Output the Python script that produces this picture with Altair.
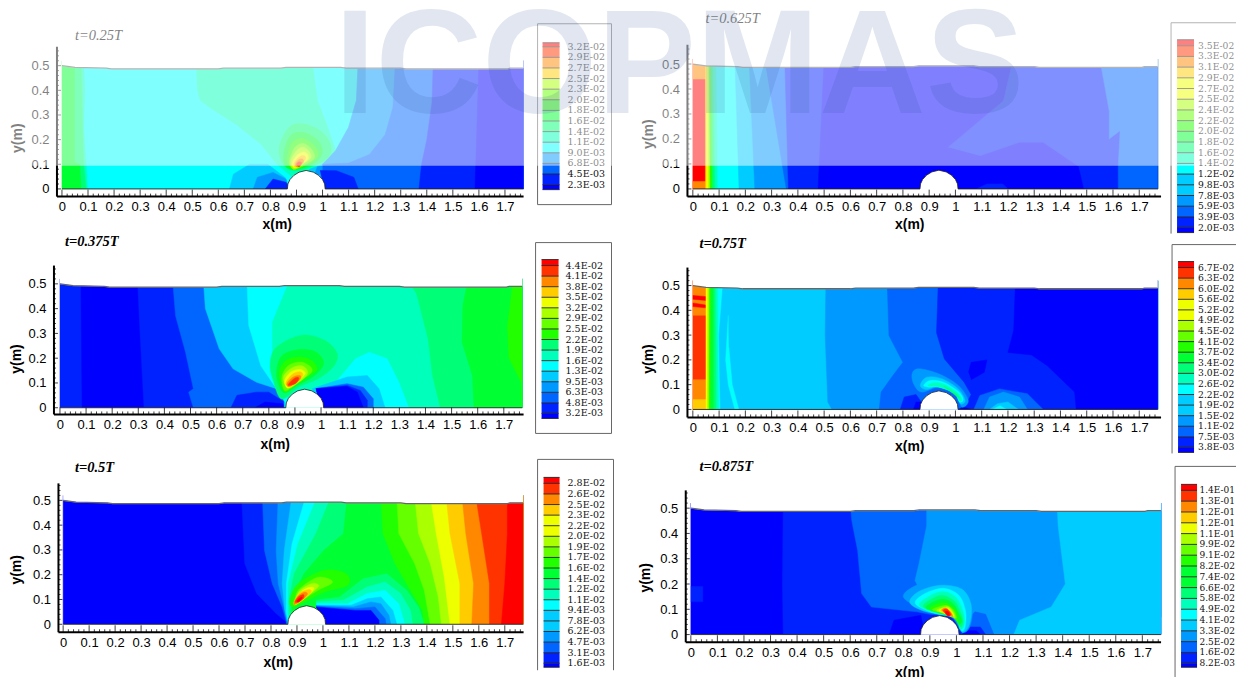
import altair as alt
import pandas as pd

PALETTE = ["#0000ff","#0022ff","#0066ff","#0099ff","#00ccff","#00ffff","#00ffbb","#00ff77","#00ff33",
           "#22ff00","#66ff00","#aaff00","#eeff00","#ffcc00","#ff8800","#ff3300","#ff0000"]

SURFACE = [(0,.5),(.05,.493),(.17,.49),(.19,.487),(.6,.487),(.62,.49),(.84,.49),(.86,.493),(1.07,.493),
           (1.09,.49),(1.3,.49),(1.32,.487),(1.71,.487),(1.72,.49),(1.77,.49)]
CYLINDER = [(.865,0),(.867,.02),(.875,.038),(.89,.055),(.91,.068),(.937,.075),(.965,.068),(.985,.055),
            (1.0,.038),(1.008,.02),(1.01,0)]

# r = region right of a contour line takes that level; p = closed polygon at that level
P1_BANDS = [("r",8,[(0,.52),(0,0)]),
 ("r",7,[(.05,.52),(.05,.11),(.07,.1),(.075,0)]),
 ("r",6,[(.075,.52),(.085,.1),(.095,0)]),
 ("r",5,[(.085,.52),(.09,.4),(.085,.25),(.095,.1),(.1,0)]),
 ("p",6,[(.515,.52),(.52,.4),(.53,.36),(.567,.33),(.67,.26),(.765,.18),(.825,.1),(.885,.047),(.99,.06),(1.04,.08),(1.08,.1),(1.05,.155),(1.02,.25),(.98,.36),(.96,.52)]),
 ("r",4,[(1.137,.52),(1.13,.36),(1.10,.25),(1.05,.155),(1.0,.1),(.95,.08),(.95,0)]),
 ("r",3,[(1.28,.52),(1.26,.33),(1.22,.2),(1.13,.12),(1.03,.1),(.98,.09),(.95,0)]),
 ("r",3,[(1.137,.52),(1.13,.36),(1.10,.25),(1.05,.155),(1.0,.1),(1.0,.1)]),
 ("p",2,[(1.0,.1),(1.1,.105),(1.18,.14),(1.24,.22),(1.27,.33),(1.28,.52),(1.77,.52),(1.77,0),(1.0,0)]),
 ("r",1,[(1.425,.52),(1.42,.35),(1.40,.2),(1.38,.1),(1.37,0)]),
 ("r",0,[(1.6,.52),(1.585,0)]),
 ("p",4,[(.643,0),(.658,.06),(.72,.1),(.79,.1),(.855,.047),(.87,0)]),
 ("p",3,[(.734,0),(.75,.047),(.81,.067),(.86,.04),(.87,0)]),
 ("p",1,[(.78,0),(.81,.04),(.86,.027),(.878,0)]),
 ("p",1,[(1.007,0),(1.137,0),(1.12,.047),(1.053,.074),(.99,.075)]),
]
P1_BLOBS = [
 (7,[(.833,.169),(.871,.25),(.924,.264),(.992,.236),(1.03,.182),(1.023,.128),(.962,.092),(.894,.074),(.848,.101)]),
 (8,[(.85,.14),(.875,.215),(.925,.23),(.98,.2),(1.0,.15),(.97,.105),(.90,.08),(.86,.09)]),
 (9,[(.865,.13),(.885,.19),(.925,.205),(.965,.18),(.985,.14),(.955,.105),(.895,.08),(.87,.095)]),
 (10,[(.875,.125),(.895,.17),(.925,.185),(.955,.165),(.97,.13),(.945,.105),(.895,.08),(.875,.095)]),
 (11,[(.88,.12),(.9,.155),(.925,.17),(.95,.15),(.955,.125),(.93,.105),(.895,.08),(.88,.09)]),
 (12,[(.885,.11),(.905,.14),(.93,.15),(.945,.135),(.94,.115),(.91,.095),(.89,.085)]),
 (13,[(.89,.105),(.91,.13),(.93,.135),(.935,.12),(.915,.1),(.895,.09)]),
 (14,[(.895,.1),(.91,.12),(.925,.12),(.925,.105),(.905,.09)]),
 (15,[(.9,.1),(.91,.11),(.92,.105),(.91,.09)]),
]

P2_BANDS = [("r",16,[(0,.52),(0,0)]),
 ("p",14,[(0,.52),(.05,.52),(.05,.44),(0,.44)]),
 ("p",14,[(0,.03),(.05,.03),(.05,0),(0,0)]),
 ("r",13,[(.048,.52),(.048,0)]),("r",12,[(.052,.52),(.052,0)]),("r",11,[(.058,.52),(.06,0)]),
 ("r",9,[(.063,.52),(.066,0)]),("r",7,[(.07,.52),(.075,0)]),("r",6,[(.078,.52),(.085,0)]),
 ("r",5,[(.09,.52),(.095,0)]),("r",4,[(.16,.52),(.176,0)]),("r",3,[(.214,.52),(.236,0)]),
 ("r",2,[(.274,.52),(.356,0)]),("r",1,[(.35,.52),(.364,0)]),("r",0,[(.5,.52),(.477,0)]),
 ("p",1,[(.973,.167),(1.183,.353),(1.22,.52),(1.55,.52),(1.59,.287),(1.59,.2),(1.627,.233),(1.62,0),(1.49,0),(1.47,.09),(1.334,.187),(1.244,.187),(1.093,.133)]),
 ("r",2,[(1.55,.52),(1.586,.31),(1.586,.2),(1.627,.233),(1.62,.087),(1.62,0)]),
 ("p",1,[(1.08,0),(1.12,.02),(1.18,.02),(1.2,0)]),
]

P3_BANDS = [("r",1,[(0,.52),(0,0)]),
 ("r",0,[(.08,.52),(.085,0)]),
 ("r",1,[(.297,.52),(.307,.3),(.322,0)]),
 ("r",2,[(.431,.52),(.443,.37),(.481,.224),(.511,.077),(.493,.063),(.511,0)]),
 ("p",1,[(.655,0),(.678,.05),(.753,.063),(.8,.063),(.86,.023),(.87,0)]),
 ("p",0,[(.747,0),(.785,.023),(.853,.016),(.87,0)]),
 ("r",4,[(.549,.52),(.557,.4),(.61,.238),(.663,.157),(.753,.103),(.829,.077),(.859,.036),(.859,0)]),
 ("r",5,[(.716,.52),(.723,.332),(.769,.17),(.829,.077),(.862,.023),(.862,0)]),
 ("r",6,[(.882,.52),(.814,.345),(.814,.21),(.859,.077),(.875,.036),(.875,0)]),
 ("p",5,[(.965,.077),(1.056,.103),(1.132,.198),(1.185,.224),(1.253,.198),(1.298,.103),(1.336,0),(1.0,0)]),
 ("p",4,[(.965,.077),(1.10,.124),(1.177,.13),(1.222,.077),(1.245,0),(1.0,0)]),
 ("p",2,[(.98,.077),(1.10,.097),(1.162,.083),(1.2,.036),(1.2,0),(1.0,0)]),
 ("p",1,[(.98,.077),(1.10,.09),(1.15,.07),(1.177,.03),(1.177,0),(1.0,0)]),
 ("p",0,[(.98,.077),(1.10,.086),(1.139,.063),(1.162,0),(1.0,0)]),
 ("r",7,[(1.328,.52),(1.366,.46),(1.41,.278),(1.427,.13),(1.457,0)]),
 ("r",8,[(1.563,.52),(1.543,.41),(1.54,.265),(1.58,.13),(1.586,0)]),
 ("r",9,[(1.737,.52),(1.714,.33),(1.72,.2),(1.767,.103),(1.77,0)]),
]
P3_BLOBS = [
 (7,[(.805,.178),(.83,.245),(.925,.293),(1.014,.272),(1.062,.218),(1.046,.164),(.989,.117),(.913,.083),(.849,.035),(.817,.11)]),
 (8,[(.83,.15),(.85,.21),(.915,.235),(.98,.225),(1.01,.18),(.975,.13),(.91,.09),(.86,.06),(.835,.1)]),
 (9,[(.84,.14),(.865,.19),(.92,.205),(.965,.19),(.985,.155),(.95,.125),(.9,.09),(.86,.065)]),
 (10,[(.85,.125),(.875,.17),(.92,.185),(.955,.17),(.965,.145),(.93,.115),(.89,.085),(.86,.07)]),
 (11,[(.855,.12),(.88,.155),(.92,.17),(.945,.155),(.945,.13),(.91,.1),(.875,.08)]),
 (12,[(.86,.11),(.885,.145),(.92,.155),(.94,.14),(.925,.12),(.89,.09),(.87,.08)]),
 (13,[(.865,.1),(.89,.135),(.92,.145),(.93,.13),(.905,.105),(.88,.085)]),
 (14,[(.87,.1),(.895,.125),(.92,.13),(.92,.115),(.895,.095),(.875,.085)]),
 (15,[(.875,.095),(.9,.12),(.915,.12),(.905,.1),(.88,.09)]),
]

P4_BANDS = [("r",15,[(0,.52),(0,0)]),
 ("p",14,[(0,.52),(.05,.52),(.05,.38),(0,.38)]),
 ("p",16,[(0,.46),(.055,.455),(.05,.44),(0,.445)]),
 ("p",16,[(0,.43),(.055,.42),(.05,.41),(0,.415)]),
 ("p",14,[(0,.12),(.05,.12),(.05,0),(0,0)]),
 ("p",13,[(0,.04),(.05,.04),(.05,0),(0,0)]),
 ("r",12,[(.05,.52),(.05,0)]),("r",11,[(.058,.52),(.056,0)]),("r",9,[(.064,.52),(.062,0)]),
 ("r",8,[(.07,.52),(.068,0)]),("r",7,[(.08,.52),(.08,0)]),("r",6,[(.087,.52),(.09,0)]),
 ("r",5,[(.095,.52),(.1,0)]),("r",4,[(.116,.52),(.1,.3),(.105,0)]),
 ("p",5,[(.135,.38),(.125,.2),(.135,.1),(.16,0),(.175,0),(.15,.1),(.137,.25)]),
 ("r",3,[(.507,.52),(.504,.3),(.514,.03),(.53,0)]),
 ("r",2,[(.74,.52),(.747,.298),(.8,.19),(.762,.137),(.717,.07),(.71,0)]),
 ("r",1,[(.935,.52),(.928,.31),(.958,.204),(1.033,.11),(1.06,.06),(1.03,0)]),
 ("r",0,[(1.229,.52),(1.222,.32),(1.2,.23),(1.29,.22),(1.349,.177),(1.454,.07),(1.46,0)]),
 ("p",0,[(1.05,.15),(1.06,.19),(1.12,.2),(1.11,.15),(1.06,.12)]),
 ("p",2,[(1.07,0),(1.093,.056),(1.168,.083),(1.274,.063),(1.334,0)]),
 ("p",3,[(1.108,0),(1.13,.05),(1.183,.07),(1.244,.05),(1.274,0)]),
 ("p",4,[(1.13,0),(1.16,.023),(1.2,.03),(1.24,.0)]),
 ("p",5,[(1.14,0),(1.17,.015),(1.195,0)]),
 ("p",1,[(.79,0),(.805,.05),(.85,.06),(.87,.03),(.87,0)]),
 ("p",0,[(.84,0),(.85,.03),(.87,.03),(.87,0)]),
 ("p",0,[(1.01,0),(1.03,.01),(1.06,.0)]),
]
P4_BLOBS = [
 (3,[(.835,.144),(.86,.164),(.936,.144),(1.011,.097),(1.049,.036),(1.024,.01),(.999,.07),(.936,.09),(.871,.07),(.841,.103)]),
 (4,[(.866,.097),(.891,.13),(.948,.124),(1.011,.083),(1.037,.036),(1.018,.023),(.999,.07),(.936,.093),(.891,.08)]),
 (5,[(.879,.097),(.904,.117),(.955,.11),(1.011,.073),(1.03,.04),(1.015,.03),(.995,.068),(.936,.09),(.9,.09)]),
 (6,[(.895,.095),(.92,.108),(.96,.1),(1.005,.07),(1.025,.04),(1.015,.035),(.995,.065),(.94,.09)]),
 (7,[(.955,.095),(1.0,.065),(1.015,.045),(.99,.065)]),
]

P5_BANDS = [("r",0,[(0,.52),(0,0)]),
 ("r",1,[(.687,.52),(.699,.245),(.745,.124),(.82,.043),(.859,.01),(.859,0)]),
 ("r",2,[(.767,.52),(.775,.298),(.805,.164),(.843,.07),(.859,.01),(.859,0)]),
 ("r",3,[(.828,.52),(.82,.298),(.828,.164),(.85,.07),(.862,.01),(.862,0)]),
 ("r",4,[(.881,.52),(.851,.298),(.843,.164),(.853,.06),(.865,0)]),
 ("r",5,[(.935,.52),(.881,.325),(.859,.164),(.859,.05),(.868,0)]),
 ("r",6,[(.98,.52),(.904,.325),(.866,.164),(.865,.05),(.87,0)]),
 ("r",7,[(1.033,.52),(.973,.366),(.889,.204),(.87,.1),(.875,0)]),
 ("r",8,[(1.094,.52),(1.079,.366),(1.003,.298),(.927,.204),(.88,.1),(.88,0)]),
 ("p",7,[(.973,.097),(1.064,.11),(1.155,.184),(1.246,.204),(1.322,.137),(1.368,.07),(1.39,0),(1.01,0)]),
 ("p",6,[(.973,.09),(1.079,.097),(1.17,.15),(1.239,.171),(1.299,.124),(1.337,.056),(1.345,0),(1.01,0)]),
 ("p",5,[(.973,.083),(1.094,.083),(1.17,.124),(1.239,.137),(1.292,.083),(1.315,0),(1.01,0)]),
 ("p",4,[(.973,.077),(1.109,.077),(1.17,.103),(1.223,.11),(1.269,.056),(1.284,0),(1.01,0)]),
 ("p",3,[(.973,.075),(1.117,.07),(1.185,.09),(1.223,.083),(1.254,.036),(1.261,0),(1.01,0)]),
 ("p",2,[(.973,.073),(1.125,.063),(1.2,.07),(1.239,.023),(1.243,0),(1.01,0)]),
 ("p",0,[(.973,.07),(1.125,.056),(1.185,.056),(1.216,.016),(1.216,0),(1.01,0)]),
 ("r",9,[(1.223,.52),(1.231,.366),(1.277,.245),(1.337,.137),(1.383,.056),(1.39,0)]),
 ("r",10,[(1.284,.52),(1.292,.366),(1.353,.245),(1.39,.137),(1.413,0)]),
 ("r",11,[(1.353,.52),(1.368,.366),(1.413,.245),(1.444,.11),(1.456,0)]),
 ("r",12,[(1.413,.52),(1.436,.366),(1.467,.19),(1.489,0)]),
 ("r",13,[(1.474,.52),(1.489,.366),(1.527,.164),(1.527,0)]),
 ("r",14,[(1.535,.52),(1.55,.366),(1.58,.164),(1.573,0)]),
 ("r",15,[(1.588,.52),(1.611,.366),(1.641,.164),(1.641,0)]),
 ("r",16,[(1.71,.52),(1.71,.366),(1.70,.164),(1.687,0)]),
]
P5_BLOBS = [
 (9,[(.873,.097),(.905,.164),(1.006,.218),(1.089,.204),(1.095,.157),(1.006,.13),(.93,.09),(.885,.07)]),
 (10,[(.893,.105),(.911,.144),(.981,.19),(1.038,.171),(.981,.137),(.93,.103),(.889,.077)]),
 (11,[(.893,.1),(.915,.14),(.96,.165),(.985,.155),(.96,.13),(.92,.1),(.89,.08)]),
 (12,[(.895,.095),(.92,.135),(.955,.15),(.965,.14),(.93,.105),(.895,.08)]),
 (13,[(.89,.09),(.91,.125),(.945,.14),(.955,.13),(.925,.1),(.895,.08)]),
 (14,[(.89,.09),(.905,.115),(.93,.13),(.94,.12),(.915,.095),(.89,.08)]),
 (15,[(.893,.09),(.905,.11),(.925,.12),(.925,.105),(.905,.09)]),
 (16,[(.9,.095),(.91,.105),(.92,.11),(.915,.098),(.905,.09)]),
]

P6_BANDS = [("r",0,[(0,.52),(0,0)]),
 ("p",1,[(0,.19),(.045,.19),(.045,.13),(0,.13)]),
 ("r",1,[(.348,.52),(.345,.2),(.348,0)]),
 ("p",2,[(.6,.52),(.606,.45),(.628,.333),(.643,.162),(.68,.109),(.851,.09),(.9,.08),(1.03,.07),(1.77,.07),(1.77,.52)]),
 ("p",0,[(.747,0),(.765,.057),(.866,.076),(.88,0)]),
 ("p",3,[(.888,.52),(.888,.43),(.859,.28),(.844,.214),(.9,.1),(1.045,.07),(1.097,.083),(1.141,0),(1.77,0),(1.77,.52)]),
 ("p",2,[(1.02,0),(1.03,.05),(1.07,.09),(1.11,.08),(1.141,0)]),
 ("p",1,[(1.02,0),(1.05,.03),(1.09,.03),(1.11,0)]),
 ("p",0,[(1.02,0),(1.04,.015),(1.075,.015),(1.09,0)]),
 ("r",4,[(1.379,.52),(1.383,.43),(1.41,.2),(1.357,.109),(1.238,.057),(1.216,0)]),
 ("p",3,[(1.357,.39),(1.37,.31),(1.385,.27),(1.385,.33)]),
]
P6_BLOBS = [
 (3,[(.8,.149),(.859,.2),(.94,.214),(1.03,.188),(1.06,.11),(1.05,.03),(1.02,.01),(.98,.07),(.889,.095)]),
 (4,[(.825,.125),(.858,.17),(.94,.195),(1.02,.18),(1.055,.12),(1.05,.043),(1.021,.009),(.996,.069),(.889,.089)]),
 (5,[(.845,.123),(.883,.163),(.951,.183),(1.009,.156),(1.034,.096),(1.034,.036),(1.02,.015),(.996,.065),(.913,.085)]),
 (6,[(.86,.115),(.895,.15),(.95,.17),(1.0,.145),(1.025,.09),(1.03,.045),(1.015,.02),(.995,.065),(.925,.085)]),
 (7,[(.875,.11),(.905,.14),(.95,.155),(.995,.13),(1.018,.08),(1.025,.05),(1.015,.03),(.995,.065),(.935,.085)]),
 (8,[(.885,.105),(.915,.13),(.955,.14),(.99,.12),(1.01,.08),(1.02,.055),(1.008,.04),(.99,.07),(.94,.085)]),
 (9,[(.9,.1),(.925,.12),(.96,.125),(.99,.105),(1.005,.075),(1.005,.05),(.985,.07),(.945,.085)]),
 (10,[(.91,.097),(.935,.11),(.965,.115),(.99,.095),(1.0,.065),(.985,.07),(.95,.085)]),
 (11,[(.925,.095),(.945,.105),(.97,.11),(.99,.085),(.995,.065),(.98,.075),(.95,.085)]),
 (12,[(.935,.095),(.955,.105),(.975,.1),(.99,.075),(.975,.075),(.955,.085)]),
 (13,[(.94,.095),(.96,.105),(.98,.09),(.985,.07),(.965,.08)]),
 (14,[(.945,.097),(.96,.105),(.98,.085),(.985,.07),(.965,.08)]),
 (15,[(.95,.095),(.965,.1),(.98,.08),(.97,.075)]),
 (16,[(.958,.09),(.97,.09),(.975,.075),(.965,.075)]),
]

L1 = ["3.2E-02","2.9E-02","2.7E-02","2.5E-02","2.3E-02","2.0E-02","1.8E-02","1.6E-02","1.4E-02","1.1E-02","9.0E-03","6.8E-03","4.5E-03","2.3E-03"]
L2 = ["3.5E-02","3.3E-02","3.1E-02","2.9E-02","2.7E-02","2.5E-02","2.4E-02","2.2E-02","2.0E-02","1.8E-02","1.6E-02","1.4E-02","1.2E-02","9.8E-03","7.8E-03","5.9E-03","3.9E-03","2.0E-03"]
L3 = ["4.4E-02","4.1E-02","3.8E-02","3.5E-02","3.2E-02","2.9E-02","2.5E-02","2.2E-02","1.9E-02","1.6E-02","1.3E-02","9.5E-03","6.3E-03","4.8E-03","3.2E-03"]
L4 = ["6.7E-02","6.3E-02","6.0E-02","5.6E-02","5.2E-02","4.9E-02","4.5E-02","4.1E-02","3.7E-02","3.4E-02","3.0E-02","2.6E-02","2.2E-02","1.9E-02","1.5E-02","1.1E-02","7.5E-03","3.8E-03"]
L5 = ["2.8E-02","2.6E-02","2.5E-02","2.3E-02","2.2E-02","2.0E-02","1.9E-02","1.7E-02","1.6E-02","1.4E-02","1.2E-02","1.1E-02","9.4E-03","7.8E-03","6.2E-03","4.7E-03","3.1E-03","1.6E-03"]
L6 = ["1.4E-01","1.3E-01","1.2E-01","1.2E-01","1.1E-01","9.9E-02","9.1E-02","8.2E-02","7.4E-02","6.6E-02","5.8E-02","4.9E-02","4.1E-02","3.3E-02","2.5E-02","1.6E-02","8.2E-03"]

XTICKS = [i / 10 for i in range(18)]
YTICKS = [i / 10 for i in range(6)]
SANS = "Liberation Sans"
SERIF = "Liberation Serif"
PAGE_RIGHT = 1237


def polys(items):
    rows = []
    for n, item in enumerate(items):
        if item[0] in ("r", "p"):
            kind, lev, pts = item
            if kind == "r":
                pts = pts + [(1.77, pts[-1][1]), (1.77, pts[0][1])]
        else:
            lev, pts = item
        for i, (x, y) in enumerate(pts):
            rows.append({"p": n, "i": i, "x": x, "y": y, "c": PALETTE[lev]})
    return pd.DataFrame(rows)


def panel(g, bands, blobs, title, weight="bold"):
    L, R, T, B, x0, ppm, y0, ppy, axx = g["L"], g["R"], g["T"], g["B"], g["x0"], g["ppm"], g["y0"], g["ppy"], g["ax"]
    CT, CB = g["CT"], g["CB"]
    tx = lambda px: (px - x0) / ppm
    ty = lambda py: (y0 - py) / ppy
    xs = alt.Scale(domain=[tx(L), tx(R)], nice=False, zero=False)
    ys = alt.Scale(domain=[ty(CB), ty(CT)], nice=False, zero=False)
    xa = alt.Axis(values=XTICKS, format=".1~f", title="x(m)", grid=False, tickSize=0, domain=False, offset=B - CB,
                  labelFont=SANS, labelFontSize=13, labelColor="#000000", labelPadding=4, labelFlush=False, labelOverlap=False,
                  titleFont=SANS, titleFontSize=14, titleFontWeight="bold", titleColor="#000000",
                  titleX=g["xtx"] - L, titleY=g["xty"] - B, titleBaseline="middle")
    ya = alt.Axis(values=YTICKS, format=".1~f", title="y(m)", grid=False, tickSize=0, domain=False, offset=L - axx,
                  labelFont=SANS, labelFontSize=13, labelColor="#000000", labelPadding=8, labelFlush=False, labelOverlap=False,
                  titleFont=SANS, titleFontSize=14, titleFontWeight="bold", titleColor="#000000",
                  titleX=g["ytx"] - axx, titleY=g["yty"] - CT, titleBaseline="middle")
    X = alt.X("x:Q", scale=xs, axis=xa)
    Y = alt.Y("y:Q", scale=ys, axis=ya)
    poly_enc = dict(x=X, y=Y, detail="p:N", order="i:Q",
                    fill=alt.Fill("c:N", scale=None), stroke=alt.Stroke("c:N", scale=None))
    layers = [alt.Chart(polys(bands)).mark_line(strokeWidth=0.5).encode(**poly_enc)]
    if blobs:
        layers.append(alt.Chart(polys(blobs)).mark_line(strokeWidth=0.4, interpolate="cardinal-closed").encode(**poly_enc))
    mask_pts = SURFACE + [(1.77, .6), (0, .6)]
    mask = pd.DataFrame([{"x": a, "y": b, "i": i} for i, (a, b) in enumerate(mask_pts)])
    layers.append(alt.Chart(mask).mark_line(fill="white", stroke="white", strokeWidth=0.5).encode(x=X, y=Y, order="i:Q"))
    under = pd.DataFrame([{"x": 0, "y": 0, "y2": ty(B - 1)}, {"x": 1.77, "y": 0, "y2": ty(B - 1)}])
    layers.append(alt.Chart(under).mark_area(color="white").encode(x=X, y=Y, y2="y2:Q"))
    surf = pd.DataFrame([{"x": a, "y": b, "i": i} for i, (a, b) in enumerate(SURFACE)])
    layers.append(alt.Chart(surf).mark_line(color="#666666", strokeWidth=1.3).encode(x=X, y=Y, order="i:Q"))
    cyl = pd.DataFrame([{"x": a, "y": b, "i": i} for i, (a, b) in enumerate(CYLINDER)])
    layers.append(alt.Chart(cyl).mark_line(fill="white", stroke="#222222", strokeWidth=0.8).encode(x=X, y=Y, order="i:Q"))
    base_line = pd.DataFrame([{"x": 0, "y": 0, "x2": .865}, {"x": 1.01, "y": 0, "x2": 1.77}])
    layers.append(alt.Chart(base_line).mark_rule(color="#222222", strokeWidth=0.9).encode(x=X, x2="x2:Q", y=Y))
    # the axis lines and the ruler ticks that rise from them
    xt = [k / 50 for k in range(89)]
    rows = [{"x": v, "y": ty(B), "y2": ty(B - (7 if k % 5 == 0 else 3))} for k, v in enumerate(xt)]
    layers.append(alt.Chart(pd.DataFrame(rows)).mark_rule(color="#111111", strokeWidth=0.8).encode(x=X, y=Y, y2="y2:Q"))
    yt = [k / 50 for k in range(29)]
    rows = [{"y": v, "x": tx(axx), "x2": tx(axx + (4 if k % 5 == 0 else 2))} for k, v in enumerate(yt)]
    layers.append(alt.Chart(pd.DataFrame(rows)).mark_rule(color="#111111", strokeWidth=0.8).encode(x=X, x2="x2:Q", y=Y))
    frame = pd.DataFrame([{"x": tx(axx), "x2": tx(R), "y": ty(B), "y2": ty(B)},
                          {"x": tx(axx), "x2": tx(axx), "y": ty(B), "y2": ty(T)}])
    layers.append(alt.Chart(frame).mark_rule(color="#000000", strokeWidth=2).encode(x=X, x2="x2:Q", y=Y, y2="y2:Q"))
    ttl = pd.DataFrame([{"x": tx(g["tx"]), "y": ty(g["ty"]), "t": title}])
    layers.append(alt.Chart(ttl).mark_text(font=SERIF, fontSize=14.5, fontStyle="italic", fontWeight=weight,
                                            align="left", baseline="middle", color="#000000").encode(x=X, y=Y, text="t:N"))
    return alt.layer(*layers).properties(width=R - L, height=CB - CT)


def legend(g, labels, overlay=False):
    xl, xr = g["cellL"], g["cellR"]
    T, B = g["CT"], g["CB"]
    xs = alt.Scale(domain=[xl, xr], nice=False, zero=False)
    ys = alt.Scale(domain=[B, T], nice=False, zero=False)
    X = alt.X("x:Q", scale=xs, axis=None)
    Y = alt.Y("y:Q", scale=ys, axis=None)
    n = len(labels)
    dy = (g["lastY"] - g["firstY"]) / (n - 1)
    rows = []
    edges = [g["stackTop"]] + [g["firstY"] + k * dy for k in range(n)] + [g["stackBot"]]
    for k in range(n + 1):
        lev = round((n - k) * 16 / n)
        rows.append({"x": g["sx0"], "x2": g["sx1"], "y": edges[k], "y2": edges[k + 1], "c": PALETTE[lev]})
    bands = alt.Chart(pd.DataFrame(rows)).mark_rect().encode(x=X, x2="x2:Q", y=Y, y2="y2:Q", fill=alt.Fill("c:N", scale=None))
    lines = pd.DataFrame([{"x": g["sx0"], "x2": g["sx1"], "y": e} for e in edges])
    line = alt.Chart(lines).mark_rule(color="#222222", strokeWidth=0.9).encode(x=X, x2="x2:Q", y=Y)
    txt = pd.DataFrame([{"x": g["lx"], "y": g["firstY"] + k * dy, "t": s} for k, s in enumerate(labels)])
    text = alt.Chart(txt).mark_text(font="DejaVu Serif", fontSize=g.get("lfs", 9.5), align="left", baseline="middle", color="#111111").encode(x=X, y=Y, text="t:N")
    frame_rows = [{"x": g["bx0"], "x2": min(g["bx1"], PAGE_RIGHT), "y": g["by0"], "y2": g["by0"]},
                  {"x": g["bx0"], "x2": g["bx0"], "y": g["by0"], "y2": g["by1"]}]
    if g["bx1"] <= PAGE_RIGHT:
        frame_rows.append({"x": g["bx1"], "x2": g["bx1"], "y": g["by0"], "y2": g["by1"]})
    if g["closed"]:
        frame_rows.append({"x": g["bx0"], "x2": g["bx1"], "y": g["by1"], "y2": g["by1"]})
    frame = alt.Chart(pd.DataFrame(frame_rows)).mark_rule(color="#666666", strokeWidth=1).encode(x=X, x2="x2:Q", y=Y, y2="y2:Q")
    layers = [bands, line, text, frame]
    if overlay:
        wash = pd.DataFrame([{"x": 8, "x2": PAGE_RIGHT, "y": 8, "y2": 165}])
        layers.append(alt.Chart(wash).mark_rect(fill="white", opacity=0.5).encode(x=X, x2="x2:Q", y=Y, y2="y2:Q"))
        mark = pd.DataFrame([{"x": 680, "y": 112, "t": "ICOPMAS"}])
        layers.append(alt.Chart(mark).mark_text(font=SANS, fontWeight="bold", fontSize=148, align="center", baseline="alphabetic",
                                               fill="#204a90", opacity=0.13).encode(x=X, y=Y, text="t:N"))
    return alt.layer(*layers).properties(width=xr - xl, height=B - T)


ROW1 = dict(CT=44, CB=196)
ROW2 = dict(CT=262, CB=417)
ROW3 = dict(CT=483, CB=642)
G1 = dict(ROW1, L=54, R=524, T=46, B=196, x0=62, ppm=260.8, y0=188.3, ppy=246.7, ax=57, tx=75, ty=35, xtx=277, xty=224, ytx=18, yty=137)
G3 = dict(ROW2, L=54, R=524, T=265, B=414, x0=60, ppm=261.3, y0=407.3, ppy=248, ax=54, tx=65, ty=241, xtx=275, xty=444, ytx=16.5, yty=358)
G5 = dict(ROW3, L=54, R=524, T=483, B=632, x0=63.2, ppm=260, y0=624, ppy=248, ax=58.5, tx=75, ty=468, xtx=278, xty=662, ytx=17, yty=569)
G2 = dict(ROW1, L=686, R=1162, T=44, B=196, x0=693.4, ppm=262.8, y0=188.3, ppy=250, ax=688, tx=706, ty=18, xtx=910, xty=224, ytx=649, yty=133)
G4 = dict(ROW2, L=686, R=1162, T=267, B=417, x0=693.4, ppm=262.8, y0=409, ppy=248, ax=688, tx=700, ty=243, xtx=910, xty=446, ytx=649, yty=358)
G6 = dict(ROW3, L=686, R=1162, T=490, B=642, x0=691.4, ppm=265.8, y0=634.3, ppy=253, ax=686.3, tx=700, ty=467, xtx=910, xty=672, ytx=646, yty=577)

LG1 = dict(G1, cellL=524, cellR=686, stackTop=42, stackBot=189, firstY=46, lastY=184, sx0=543, sx1=560, lx=568, bx0=538, bx1=612, by0=23, by1=204, closed=True)
LG3 = dict(G3, cellL=524, cellR=686, stackTop=259, stackBot=418, firstY=265, lastY=413, sx0=542, sx1=559, lx=566, bx0=536, bx1=612, by0=242, by1=433, closed=True)
LG5 = dict(G5, cellL=524, cellR=686, stackTop=477, stackBot=667, firstY=483, lastY=663, sx0=544, sx1=560, lx=568, bx0=538, bx1=614, by0=459, by1=670, closed=False)
LG2 = dict(G2, cellL=1162, cellR=PAGE_RIGHT, stackTop=39, stackBot=232, firstY=45, lastY=227, sx0=1178, sx1=1195, lx=1199, lfs=9.2, bx0=1172, bx1=1300, by0=22, by1=233, closed=False)
LG4 = dict(G4, cellL=1162, cellR=PAGE_RIGHT, stackTop=261, stackBot=452, firstY=267, lastY=447, sx0=1179, sx1=1195, lx=1199, lfs=9.2, bx0=1173, bx1=1300, by0=244, by1=453, closed=False)
LG6 = dict(G6, cellL=1162, cellR=PAGE_RIGHT, stackTop=484, stackBot=667, firstY=490, lastY=663, sx0=1182, sx1=1198, lx=1200.5, lfs=9.0, bx0=1176, bx1=1300, by0=466, by1=677, closed=False)

chart = alt.concat(
    panel(G1, P1_BANDS, P1_BLOBS, "t=0.25T", "normal"), legend(LG1, L1),
    panel(G2, P2_BANDS, None, "t=0.625T", "normal"), legend(LG2, L2, overlay=True),
    panel(G3, P3_BANDS, P3_BLOBS, "t=0.375T"), legend(LG3, L3),
    panel(G4, P4_BANDS, P4_BLOBS, "t=0.75T"), legend(LG4, L4),
    panel(G5, P5_BANDS, P5_BLOBS, "t=0.5T"), legend(LG5, L5),
    panel(G6, P6_BANDS, P6_BLOBS, "t=0.875T"), legend(LG6, L6),
    columns=4, spacing={"row": 66, "column": 0}, bounds="flush", align="each",
    padding={"left": 0, "top": -13.5, "right": 0, "bottom": 0}, background="white"
).configure_view(stroke=None)

chart.save("out.html", embed_options={"renderer": "svg", "actions": False})
